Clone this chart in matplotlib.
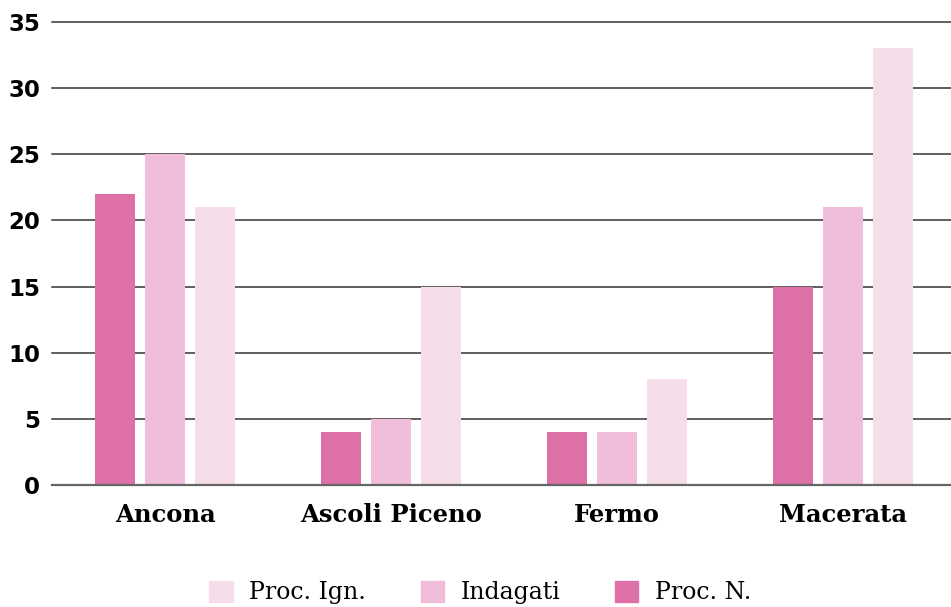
import numpy as np
import matplotlib.pyplot as plt
from matplotlib.patches import Patch

# dati per provincia
province = ["Ancona", "Ascoli Piceno", "Fermo", "Macerata"]
proc_n = [22, 4, 4, 15]
indagati = [25, 5, 4, 21]
proc_ign = [21, 15, 8, 33]

colori = {"Proc. N.": "#de70a8", "Indagati": "#f0bdda", "Proc. Ign.": "#f5ddea"}

fig = plt.figure(figsize=(9.51, 6.07), dpi=100)
ax = fig.add_axes([52 / 951, 122 / 607, 1 - 52 / 951, 463 / 607])

x = np.arange(len(province))
w = 0.177
off = 0.221
ax.bar(x - off, proc_n, w, color=colori["Proc. N."], zorder=3)
ax.bar(x, indagati, w, color=colori["Indagati"], zorder=3)
ax.bar(x + off, proc_ign, w, color=colori["Proc. Ign."], zorder=3)

ax.set_xlim(-0.5, 3.478)
ax.set_ylim(0, 35)
ax.set_yticks(range(0, 36, 5))
ax.yaxis.grid(True, color="#333333", linewidth=1.1, zorder=0)
for l in ax.get_ygridlines():
    l.set_clip_on(False)
ax.set_axisbelow(True)

for s in ["top", "right", "left"]:
    ax.spines[s].set_visible(False)
ax.spines["bottom"].set_color("#666666")
ax.spines["bottom"].set_linewidth(1.6)
ax.spines["bottom"].set_zorder(4)

ax.set_xticks(x)
ax.set_xticklabels(province, fontfamily="DejaVu Serif", fontweight="bold", fontsize=17.5)
ax.tick_params(axis="x", length=0, pad=13)
ax.tick_params(axis="y", length=0, pad=8.5, labelsize=16.5)
for t in ax.get_yticklabels():
    t.set_fontweight("bold")

handles = [Patch(color=colori[k]) for k in ["Proc. Ign.", "Indagati", "Proc. N."]]
fig.legend(handles, ["Proc. Ign.", "Indagati", "Proc. N."], loc="center",
           bbox_to_anchor=(0.505, 0.024), ncol=3, frameon=False,
           prop={"family": "DejaVu Serif", "size": 17},
           handlelength=1.0, handleheight=1.0, handletextpad=0.7, columnspacing=2.3)

fig.savefig("out.png", dpi=100)
